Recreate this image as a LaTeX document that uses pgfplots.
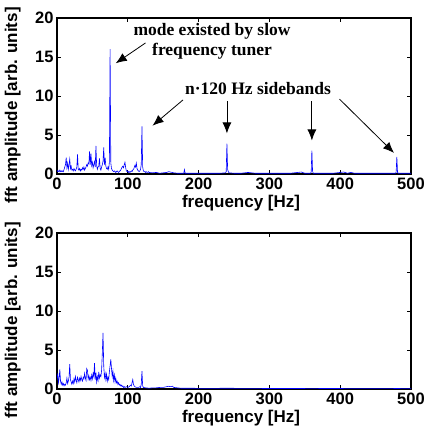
\documentclass[border=0pt]{standalone}
\usepackage{fontspec}
\setmainfont{Liberation Sans}
\newfontfamily\annfont{Liberation Serif}
\usepackage{pgfplots}
\pgfplotsset{compat=1.18}
\usetikzlibrary{arrows.meta}

\pgfplotsset{
  spec/.style={
    scale only axis, width=354bp, height=156bp,
    xmin=0, xmax=500, ymin=0, ymax=20,
    xtick={0,100,...,500}, ytick={0,5,...,20},
    tick align=inside, major tick length=4bp,
    xtick pos=both, ytick pos=both,
    axis line style={line width=1.2bp},
    every tick/.style={black, line width=0.8bp},
    /pgf/number format/assume math mode=true,
    tick label style={font=\fontsize{16.5bp}{19bp}\selectfont\bfseries},
    xlabel={frequency [Hz]},
    ylabel={fft amplitude [arb. units]},
    every axis x label/.style={at={(axis description cs:0.52,-0.185)}, anchor=center,
      font=\fontsize{17bp}{20bp}\selectfont\bfseries},
    every axis y label/.style={at={(axis description cs:-0.125,0.44)}, rotate=90, anchor=center,
      font=\fontsize{17bp}{20bp}\selectfont\bfseries},
    clip=true,
  },
}
\tikzset{
  ann/.style={font=\annfont\fontsize{17.5bp}{20bp}\selectfont\bfseries, align=center},
  arr/.style={-{Latex[length=11bp,width=9bp]}, line width=0.8bp},
}

\begin{document}
\begin{tikzpicture}
\useasboundingbox (0,0) rectangle (430bp,436bp);

\begin{axis}[spec, at={(57bp,262bp)}, anchor=south west]
\addplot[blue, line width=0.6bp] coordinates {
(0,0.5)(1,0.3)(2,0.4)(3,0.3)(4,0.5)(5,0.3)(6,0.4)(7,0.3)(8,0.4)(9,0.3)
(10,0.6)(11,0.9)(12,1.2)(13,2.1)(14,0.8)(15,1.4)(16,0.6)(17,1.2)(18,1.9)(19,0.7)
(20,1.0)(21,0.5)(22,0.6)(23,0.4)(24,0.7)(25,0.5)(26,0.4)(27,0.6)(28,0.9)(29,2.5)
(30,0.6)(31,0.5)(32,0.7)(33,0.4)(34,0.6)(35,0.5)(36,0.8)(37,0.6)(38,0.9)(39,0.5)
(40,0.7)(41,0.9)(42,1.2)(43,1.0)(44,1.4)(45,1.3)(46,2.9)(47,1.2)(48,2.6)(49,1.1)
(50,1.5)(51,0.8)(52,1.2)(53,1.6)(54,0.9)(55,3.6)(56,1.1)(57,0.6)(58,0.9)(59,1.0)
(60,2.0)(61,0.7)(62,0.5)(63,0.9)(64,1.2)(65,1.6)(66,3.4)(67,1.2)(68,2.1)(69,1.0)
(70,0.7)(71,0.6)(72,0.9)(73,0.6)(74,1.5)(75,16.0)(76,1.4)(77,0.7)(78,0.5)(79,0.4)
(80,0.3)(81,0.4)(82,0.3)(83,0.2)(84,0.3)(85,0.4)(86,0.3)(87,0.2)(88,0.3)(89,0.4)
(90,0.5)(91,0.7)(92,0.9)(93,1.0)(94,0.8)(95,1.2)(96,1.5)(97,0.8)(98,0.4)(99,0.3)
(100,0.4)(101,0.2)(102,0.3)(103,0.2)(104,0.3)(105,0.4)(106,0.3)(107,0.5)(108,0.6)(109,0.8)
(110,1.1)(111,0.9)(112,1.4)(113,0.7)(114,0.5)(115,0.4)(116,0.3)(117,0.4)(118,0.6)(119,1.2)
(120,6.1)(121,0.9)(122,0.4)(123,0.3)(124,0.3)(125,0.2)(126,0.3)(127,0.2)(128,0.2)(129,0.3)
(130,0.2)(135,0.15)(140,0.2)(145,0.1)(150,0.15)(155,0.2)(158,0.3)(160,0.25)(165,0.15)(170,0.1)
(175,0.1)(179,0.1)(180,0.55)(181,0.1)(185,0.1)(190,0.1)(200,0.1)(210,0.1)(220,0.1)(230,0.1)
(238,0.15)(239,0.3)(240,3.9)(241,0.6)(242,0.3)(243,0.15)(250,0.1)(260,0.1)(270,0.2)(280,0.1)
(290,0.1)(300,0.1)(310,0.1)(320,0.1)(330,0.1)(345,0.25)(350,0.1)(358,0.1)(359,0.2)(360,3.0)
(361,0.3)(362,0.1)(370,0.1)(380,0.1)(390,0.1)(405,0.25)(410,0.1)(415,0.2)(420,0.1)(430,0.1)
(440,0.1)(450,0.1)(460,0.1)(470,0.1)(478,0.1)(479,0.2)(480,2.2)(481,0.2)(482,0.1)(490,0.1)
(500,0.1)
};
\node[ann] at (axis cs:219,17.0) {mode existed by slow\\frequency tuner};
\node[ann] at (axis cs:284,11.0) {n·120 Hz sidebands};
\draw[arr] (axis cs:125,16.8) -- (axis cs:83,14.2);
\draw[arr] (axis cs:178,9.5) -- (axis cs:135,6.2);
\draw[arr] (axis cs:240,9.3) -- (axis cs:240,5.2);
\draw[arr] (axis cs:360,9.3) -- (axis cs:360,4.3);
\draw[arr] (axis cs:399,9.6) -- (axis cs:476,2.7);
\end{axis}

\begin{axis}[spec, at={(57bp,47bp)}, anchor=south west]
\addplot[blue, line width=0.6bp] coordinates {
(0,1.2)(1,2.0)(2,0.8)(3,1.4)(4,2.5)(5,1.0)(6,0.6)(7,0.9)(8,0.5)(9,0.7)
(10,0.4)(11,0.6)(12,0.5)(13,0.8)(14,1.4)(15,0.7)(16,1.0)(17,1.5)(18,3.2)(19,1.2)
(20,0.9)(21,0.6)(22,1.0)(23,0.7)(24,1.3)(25,0.9)(26,1.6)(27,1.1)(28,0.8)(29,1.5)
(30,1.2)(31,0.9)(32,1.4)(33,1.1)(34,1.6)(35,1.2)(36,1.0)(37,1.5)(38,1.3)(39,2.0)
(40,1.4)(41,1.1)(42,2.6)(43,2.4)(44,1.3)(45,1.7)(46,1.2)(47,1.5)(48,1.1)(49,1.8)
(50,1.3)(51,2.0)(52,1.6)(53,3.3)(54,1.2)(55,2.1)(56,0.9)(57,1.6)(58,1.1)(59,2.2)
(60,1.4)(61,1.8)(62,1.6)(63,2.4)(64,4.6)(65,7.2)(66,3.0)(67,1.5)(68,2.0)(69,1.2)
(70,1.9)(71,1.0)(72,1.5)(73,1.2)(74,2.2)(75,3.0)(76,3.8)(77,2.6)(78,1.6)(79,2.3)
(80,1.1)(81,1.8)(82,0.9)(83,1.4)(84,0.8)(85,1.0)(86,0.6)(87,0.8)(88,0.5)(89,0.6)
(90,0.4)(91,0.5)(92,0.3)(93,0.4)(94,0.2)(95,0.3)(96,0.2)(98,0.3)(100,0.2)(102,0.3)
(104,0.5)(105,0.4)(106,0.8)(107,1.2)(108,0.6)(109,0.4)(110,0.3)(112,0.2)(115,0.2)(117,0.3)
(118,0.2)(119,0.6)(120,2.3)(121,0.4)(122,0.2)(125,0.15)(130,0.1)(135,0.15)(140,0.15)(145,0.2)
(150,0.2)(155,0.3)(158,0.35)(160,0.3)(163,0.35)(165,0.2)(170,0.15)(175,0.1)(180,0.1)(190,0.1)
(200,0.08)(220,0.08)(240,0.1)(260,0.08)(280,0.08)(300,0.06)(320,0.06)(340,0.06)(360,0.08)(380,0.06)
(400,0.06)(420,0.05)(440,0.05)(460,0.05)(480,0.06)(500,0.05)
};
\end{axis}
\end{tikzpicture}
\end{document}
